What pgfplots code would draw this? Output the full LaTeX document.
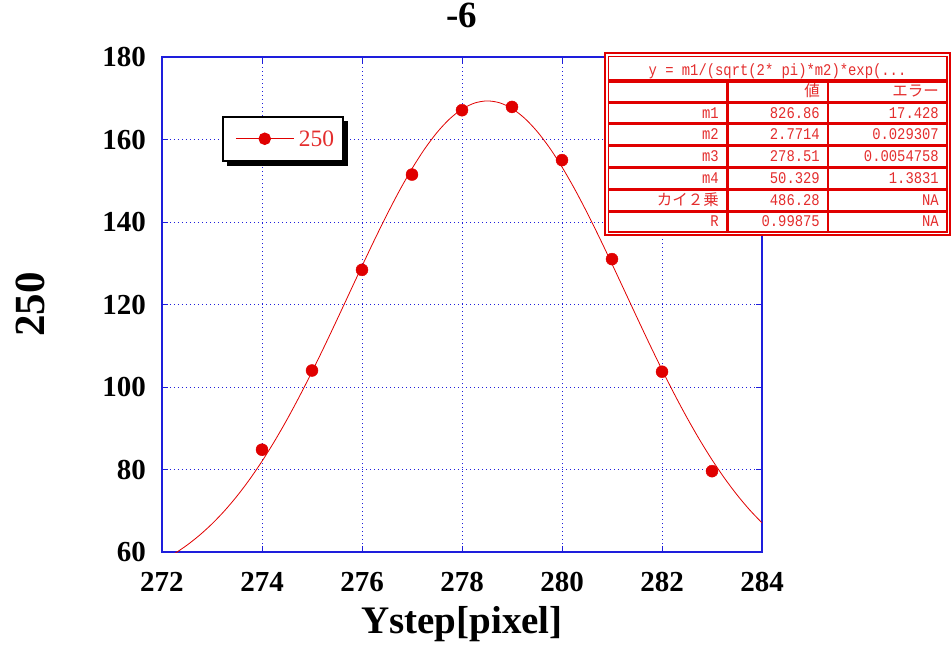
\documentclass[border=0pt]{standalone}
\usepackage{pgfplots}
\pgfplotsset{compat=1.18}
\usepackage{fontspec}
\setmainfont{Liberation Serif}
\newfontfamily\tabfont[FakeStretch=0.85]{Liberation Mono}
\newfontfamily\cjk{Noto Sans CJK JP}
\usetikzlibrary{calc}
\definecolor{fitred}{RGB}{224,0,0}
\definecolor{txtred}{RGB}{228,45,45}
\definecolor{gridblue}{RGB}{30,30,220}
\newcommand{\tf}{\tabfont\fontsize{16.3}{18}\selectfont}
\newcommand{\cf}{\cjk\fontsize{15.5}{18}\selectfont}
\begin{document}
\begin{tikzpicture}[x=1pt,y=1pt]
\path[use as bounding box] (0pt,0pt) rectangle (951pt,649pt);
\begin{axis}[
  at={(162pt,97pt)}, anchor=south west, scale only axis, width=600pt, height=495pt,
  xmin=272, xmax=284, ymin=60, ymax=180,
  xtick={272,274,...,284}, ytick={60,80,...,180},
  grid=major,
  grid style={gridblue, line width=0.8pt, dash pattern=on 1.2pt off 2.8pt},
  axis line style={gridblue, line width=1.2pt},
  tick style={gridblue, line width=0.8pt}, major tick length=6pt, tick align=inside,
  /pgf/number format/assume math mode=true,
  ticklabel style={font=\fontsize{29}{29}\selectfont\bfseries, inner sep=0pt},
  xticklabel style={anchor=north, yshift=-20pt},
  yticklabel style={anchor=east, xshift=-16pt},
  title={-6},
  title style={at={(axis description cs:0.5,1)}, anchor=base, yshift=23pt, inner sep=0pt, font=\fontsize{37}{37}\selectfont\bfseries},
  xlabel={Ystep[pixel]},
  xlabel style={at={(axis description cs:0.5,0)}, anchor=base, yshift=-81pt, inner sep=0pt, font=\fontsize{39}{39}\selectfont\bfseries},
  ylabel={250},
  ylabel style={at={(axis description cs:-0.195,0.5)}, anchor=base, inner sep=0pt, font=\fontsize{43}{43}\selectfont\bfseries},
  legend style={name=leg, at={(axis description cs:0.1,0.8808)}, anchor=north west, draw=black, line width=1.5pt, fill=white,
    inner sep=0pt, inner xsep=0pt, inner ysep=0pt, column sep=0pt,
    nodes={inner sep=0pt, text depth=0pt, text=txtred, font=\fontsize{23.5}{23.5}\selectfont}},
  legend image code/.code={\path[draw=none, fill=none] (-13pt,-22pt) rectangle (63pt,22pt);
    \draw[fitred, line width=0.8pt] (0pt,0pt) -- (58pt,0pt);
    \fill[fitred] (29pt,0pt) circle (5.5pt);},
]
\addplot[fitred, line width=0.8pt, smooth, no marks, forget plot] coordinates {
(272,57.87) (272.25,59.61) (272.5,61.66) (272.75,64.06) (273,66.82) (273.25,69.98)
(273.5,73.56) (273.75,77.56) (274,82.00) (274.25,86.85) (274.5,92.11) (274.75,97.75)
(275,103.70) (275.25,109.92) (275.5,116.32) (275.75,122.82) (276,129.31) (276.25,135.68)
(276.5,141.82) (276.75,147.62) (277,152.93) (277.25,157.66) (277.5,161.70) (277.75,164.96)
(278,167.35) (278.25,168.83) (278.5,169.35) (278.75,168.91) (279,167.50) (279.25,165.18)
(279.5,161.99) (279.75,158.01) (280,153.33) (280.25,148.06) (280.5,142.30) (280.75,136.18)
(281,129.82) (281.25,123.34) (281.5,116.84) (281.75,110.42) (282,104.19) (282.25,98.21)
(282.5,92.55) (282.75,87.26) (283,82.37) (283.25,77.90) (283.5,73.86) (283.75,70.25) (284,67.06)
};
\addplot[only marks, mark=*, mark size=6pt, fitred, mark options={fill=fitred, draw=fitred}] coordinates {
(274,84.8) (275,104.0) (276,128.4) (277,151.5) (278,167.1) (279,167.9) (280,155.0) (281,131.0) (282,103.7) (283,79.6)
};
\addlegendentry{250\hspace*{9pt}}
\end{axis}
% legend shadow
\fill[black] ($(leg.north east)+(0pt,-4.5pt)$) rectangle ($(leg.south east)+(4.5pt,-4.5pt)$);
\fill[black] ($(leg.south west)+(4.5pt,0pt)$) rectangle ($(leg.south east)+(4.5pt,-4.5pt)$);
% results table
\fill[white] (605pt,596pt) rectangle (950pt,414pt);
\draw[fitred, line width=1.2pt] (605pt,596pt) rectangle (950pt,414pt);
\draw[fitred, line width=1.5pt] (608.5pt,592.5pt) rectangle (947pt,417pt);
\draw[fitred, line width=3.5pt] (608.5pt,568pt) -- (947pt,568pt);
\foreach \yy in {546.7,525.3,503.3,481.3,459.7,437.7} {\draw[fitred, line width=2.5pt] (608.5pt,\yy pt) -- (947pt,\yy pt);}
\draw[fitred, line width=3.5pt] (727.7pt,568pt) -- (727.7pt,417pt);
\draw[fitred, line width=2.5pt] (828pt,568pt) -- (828pt,417pt);
\node[anchor=base, inner sep=0pt, text=txtred] at (777.5pt,573.5pt) {\tf y = m1/(sqrt(2* pi)*m2)*exp(...};
\node[anchor=base east, inner sep=0pt, text=txtred] at (820pt,552.3pt) {\cf 値};
\node[anchor=base east, inner sep=0pt, text=txtred] at (939pt,552.3pt) {\cf エラー};
\node[anchor=base east, inner sep=0pt, text=txtred] at (719pt,530.8pt) {\tf m1};
\node[anchor=base east, inner sep=0pt, text=txtred] at (820pt,530.8pt) {\tf 826.86};
\node[anchor=base east, inner sep=0pt, text=txtred] at (939pt,530.8pt) {\tf 17.428};
\node[anchor=base east, inner sep=0pt, text=txtred] at (719pt,509.1pt) {\tf m2};
\node[anchor=base east, inner sep=0pt, text=txtred] at (820pt,509.1pt) {\tf 2.7714};
\node[anchor=base east, inner sep=0pt, text=txtred] at (939pt,509.1pt) {\tf 0.029307};
\node[anchor=base east, inner sep=0pt, text=txtred] at (719pt,487.1pt) {\tf m3};
\node[anchor=base east, inner sep=0pt, text=txtred] at (820pt,487.1pt) {\tf 278.51};
\node[anchor=base east, inner sep=0pt, text=txtred] at (939pt,487.1pt) {\tf 0.0054758};
\node[anchor=base east, inner sep=0pt, text=txtred] at (719pt,465.3pt) {\tf m4};
\node[anchor=base east, inner sep=0pt, text=txtred] at (820pt,465.3pt) {\tf 50.329};
\node[anchor=base east, inner sep=0pt, text=txtred] at (939pt,465.3pt) {\tf 1.3831};
\node[anchor=base east, inner sep=0pt, text=txtred] at (719pt,443.5pt) {\cf カイ２乗};
\node[anchor=base east, inner sep=0pt, text=txtred] at (820pt,443.5pt) {\tf 486.28};
\node[anchor=base east, inner sep=0pt, text=txtred] at (939pt,443.5pt) {\tf NA};
\node[anchor=base east, inner sep=0pt, text=txtred] at (719pt,422.0pt) {\tf R};
\node[anchor=base east, inner sep=0pt, text=txtred] at (820pt,422.0pt) {\tf 0.99875};
\node[anchor=base east, inner sep=0pt, text=txtred] at (939pt,422.0pt) {\tf NA};
\end{tikzpicture}
\end{document}
